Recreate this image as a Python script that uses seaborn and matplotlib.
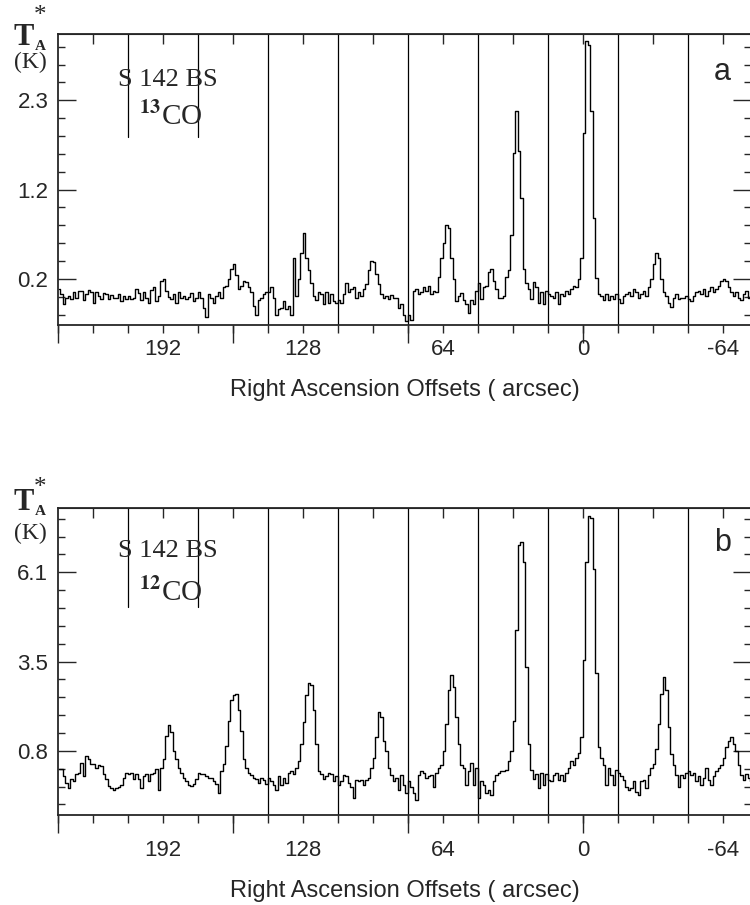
import numpy as np
import pandas as pd
import seaborn as sns
import matplotlib.pyplot as plt
from matplotlib.ticker import FixedLocator

# RA offsets of the ten concatenated spectra (arcsec)
offsets = [224, 192, 160, 128, 96, 64, 32, 0, -32, -64]

# 13CO spectra, T_A* (K), 28 channels per position
co13 = [
    [0.08, 0.02, -0.10, -0.02, 0.00, -0.04, 0.05, -0.02, 0.06, 0.06, -0.05, 0.02, 0.07, 0.04,
     -0.08, 0.04, 0.00, -0.04, 0.03, 0.02, -0.04, 0.01, -0.02, -0.03, 0.02, -0.06, 0.00, -0.04],
    [0.00, -0.04, -0.02, 0.08, 0.03, -0.05, 0.05, -0.02, -0.08, 0.07, 0.10, -0.06, 0.00, 0.18,
     0.20, 0.06, -0.01, -0.04, 0.02, -0.08, 0.04, -0.02, 0.00, -0.04, -0.01, 0.03, -0.06, -0.02],
    [0.04, -0.02, -0.14, -0.25, 0.02, -0.02, -0.09, 0.00, 0.04, -0.02, 0.10, 0.12, 0.20, 0.31,
     0.37, 0.24, 0.08, 0.12, 0.18, 0.16, 0.10, 0.04, -0.12, -0.22, -0.05, -0.02, 0.02, 0.04],
    [0.04, 0.10, -0.02, -0.22, -0.16, -0.14, -0.06, -0.16, -0.12, -0.22, 0.45, 0.00, 0.20, 0.50,
     0.74, 0.45, 0.30, 0.15, 0.00, -0.05, 0.05, 0.02, -0.10, 0.05, -0.08, 0.02, -0.06, -0.08],
    [-0.05, -0.08, 0.02, 0.15, 0.05, 0.08, 0.10, -0.02, 0.04, 0.00, 0.08, 0.14, 0.30, 0.41,
     0.40, 0.26, 0.14, 0.02, -0.02, 0.00, -0.04, 0.01, -0.03, -0.02, -0.14, -0.10, -0.22, -0.30],
    [-0.22, -0.28, 0.06, 0.08, 0.02, 0.04, 0.10, 0.06, 0.12, 0.02, 0.06, 0.04, 0.22, 0.45,
     0.62, 0.83, 0.80, 0.45, 0.20, -0.06, 0.00, 0.03, -0.05, -0.10, -0.20, -0.05, -0.10, 0.06],
    [0.15, -0.04, 0.10, 0.12, 0.28, 0.32, 0.18, 0.08, -0.02, -0.02, 0.00, 0.22, 0.30, 0.72,
     1.68, 2.18, 1.70, 1.15, 0.32, 0.15, 0.08, -0.04, 0.16, 0.10, -0.08, 0.04, -0.10, 0.06],
    [0.02, 0.00, -0.02, 0.04, -0.10, 0.02, 0.00, 0.06, 0.02, 0.08, 0.12, 0.10, 0.20, 0.45,
     1.91, 3.00, 2.95, 2.18, 0.92, 0.21, 0.02, 0.00, -0.05, 0.02, -0.05, 0.00, -0.04, 0.02],
    [-0.04, -0.08, 0.00, 0.02, 0.04, 0.00, 0.08, 0.04, -0.02, 0.02, 0.06, 0.00, 0.10, 0.20,
     0.38, 0.50, 0.45, 0.20, 0.05, 0.00, -0.08, -0.13, -0.02, 0.02, -0.04, -0.02, -0.03, 0.00],
    [-0.04, -0.06, 0.00, 0.04, 0.06, 0.02, 0.08, 0.00, 0.06, 0.10, 0.04, 0.08, 0.12, 0.18,
     0.20, 0.18, 0.10, 0.04, 0.00, 0.05, -0.02, -0.05, 0.02, 0.06, -0.02, 0.00, 0.02, 0.00],
]

# 12CO spectra, T_A* (K)
co12 = [
    [0.25, 0.25, 0.05, -0.15, -0.30, -0.05, -0.10, 0.10, 0.15, 0.45, 0.05, 0.65, 0.55, 0.40,
     0.42, 0.30, 0.38, 0.35, 0.10, -0.05, -0.25, -0.30, -0.35, -0.30, -0.28, -0.20, 0.00, 0.15],
    [0.10, 0.15, -0.05, 0.12, -0.05, -0.30, 0.05, 0.12, -0.10, 0.10, 0.15, 0.25, -0.35, 0.30,
     0.55, 1.25, 1.57, 1.35, 0.80, 0.55, 0.30, 0.15, 0.00, -0.10, -0.20, -0.25, -0.18, -0.05],
    [0.15, 0.10, 0.12, 0.05, 0.00, -0.02, -0.10, -0.18, -0.45, 0.20, 0.40, 0.95, 1.70, 2.30,
     2.45, 2.48, 2.00, 1.40, 0.55, 0.30, 0.15, 0.08, 0.00, -0.05, -0.15, 0.00, -0.08, -0.18],
    [0.00, -0.10, -0.20, -0.35, 0.05, -0.20, 0.00, -0.15, 0.15, 0.20, 0.10, 0.30, 0.50, 1.00,
     1.65, 2.45, 2.80, 2.75, 2.00, 1.00, 0.20, 0.10, -0.05, 0.05, 0.15, 0.10, -0.10, 0.05],
    [-0.21, -0.11, 0.09, 0.04, -0.16, -0.26, -0.61, -0.06, -0.11, -0.06, -0.21, -0.06, -0.01, 0.29,
     0.60, 1.20, 1.96, 1.80, 1.10, 0.80, 0.29, 0.09, -0.11, -0.01, -0.36, 0.09, -0.21, -0.46],
    [-0.11, -0.26, -0.46, -0.66, 0.09, 0.19, 0.14, -0.01, 0.04, 0.09, -0.26, 0.14, 0.29, 0.39,
     0.80, 1.60, 2.60, 3.06, 2.70, 1.80, 1.00, 0.39, 0.29, -0.21, 0.19, 0.44, -0.21, 0.29],
    [-0.61, -0.11, -0.21, -0.46, -0.36, -0.51, -0.11, 0.09, 0.14, 0.19, 0.19, 0.24, 0.49, 0.80,
     1.70, 4.40, 6.90, 7.00, 6.40, 3.30, 1.00, 0.23, -0.05, 0.10, -0.30, 0.15, -0.20, 0.10],
    [-0.06, -0.11, 0.09, 0.14, -0.06, 0.09, -0.11, 0.14, 0.29, 0.49, 0.39, 0.59, 0.74, 1.20,
     3.50, 6.40, 7.77, 7.70, 6.20, 3.10, 0.90, 0.59, 0.39, -0.21, 0.29, 0.09, -0.21, 0.24],
    [0.14, 0.04, -0.06, -0.26, -0.36, -0.31, -0.11, -0.41, -0.51, -0.11, -0.06, -0.31, 0.09, 0.30,
     0.40, 0.85, 1.60, 2.50, 3.00, 2.60, 1.50, 0.70, 0.39, 0.09, -0.26, 0.09, -0.01, 0.14],
    [0.19, 0.09, 0.14, -0.11, 0.04, -0.21, -0.01, 0.29, -0.06, -0.21, 0.04, 0.19, 0.29, 0.39,
     0.60, 0.90, 1.10, 1.22, 1.00, 0.80, 0.39, 0.09, -0.06, 0.10, 0.00, -0.10, 0.05, 0.00],
]

xlabels = [192, 128, 64, 0, -64]
a_ticks = [0.2, 1.25, 2.3]
a_ticklabels = ["0.2", "1.2", "2.3"]
b_ticks = [0.8, 3.45, 6.1]
b_ticklabels = ["0.8", "3.5", "6.1"]

sns.set_style("ticks")
plt.rcParams['font.family'] = ['Liberation Sans', 'DejaVu Sans']
plt.rcParams['mathtext.fontset'] = 'stix'
serif = ['Liberation Serif', 'DejaVu Serif']


def to_frame(segs):
    rows = []
    for off, vals in zip(offsets, segs):
        n = len(vals)
        for i, v in enumerate(vals):
            rows.append((off + 16 - (i + 0.5) * 32 / n, v))
    return pd.DataFrame(rows, columns=["offset", "T"])


def panel(ax, segs, ylim, ticks, ticklabels, step, div_start, xpad):
    df = to_frame(segs)
    sns.lineplot(data=df, x="offset", y="T", ax=ax, drawstyle="steps-mid",
                 color="black", lw=1.0, estimator=None, sort=False)
    ax.set_xlim(240, -76.8)
    ax.set_ylim(*ylim)

    bounds = [o - 16 for o in offsets[:-1]]
    for k, b in enumerate(bounds):
        ax.axvline(b, ymin=div_start if k < 2 else 0, ymax=1, color="black", lw=0.9)

    ax.set_xticks(xlabels)
    ax.set_xticklabels([str(v) for v in xlabels], fontsize=16)
    ax.xaxis.set_minor_locator(FixedLocator(np.arange(240, -81, -16)))
    ax.tick_params(axis="x", which="both", direction="out", length=6, width=1,
                   top=False, pad=xpad)

    longx = ax.secondary_xaxis("bottom")
    longx.set_xticks([240, 160, 80, 0])
    longx.tick_params(length=13, width=1, labelbottom=False)
    longx.spines["bottom"].set_visible(False)

    topx = ax.secondary_xaxis("top")
    topx.set_xticks(offsets)
    topx.tick_params(direction="in", length=7, width=1, labeltop=False)

    ax.set_yticks(ticks)
    ax.set_yticklabels(ticklabels, fontsize=16)
    minor = ticks[0] + step * np.arange(-3, 14)
    ax.yaxis.set_minor_locator(FixedLocator(minor))
    ax.tick_params(axis="y", which="major", direction="in", length=13, width=1,
                   left=True, right=True, pad=7)
    ax.tick_params(axis="y", which="minor", direction="in", length=5, width=1,
                   left=True, right=True)

    for s in ax.spines.values():
        s.set_linewidth(1.3)
    ax.set_xlabel("Right Ascension Offsets ( arcsec)", fontsize=17, labelpad=14)
    ax.set_ylabel("")


def labels(tb, sty, kc, sy, coy, iso):
    # pixel rows from the top of the 905 px figure
    fy = lambda y: 1 - y / 905
    fig.text(13 / 750, fy(tb), "T", fontsize=22, weight="bold", family=serif,
             ha="left", va="baseline")
    fig.text(35 / 750, fy(tb + 5), "A", fontsize=11, weight="bold", family=serif,
             ha="left", va="baseline")
    fig.text(40 / 750, fy(sty), "*", fontsize=18, family=serif,
             ha="center", va="center")
    fig.text(30 / 750, fy(kc), "(K)", fontsize=17, family=serif, ha="center", va="center")
    fig.text(168 / 750, fy(sy), "S 142 BS", fontsize=19, family=serif,
             ha="center", va="center")
    fig.text(171 / 750, fy(coy), r"$^{\mathbf{" + iso + r"}}$CO", fontsize=21,
             family=serif, ha="center", va="center")


fig = plt.figure(figsize=(7.5, 9.05), dpi=100)
ax_a = fig.add_axes([0.0773, 0.6409, 0.924, 0.3215])
ax_b = fig.add_axes([0.0773, 0.0994, 0.924, 0.3392])

panel(ax_a, co13, (-0.343, 3.08), a_ticks, a_ticklabels, 0.21, 0.645, 4)
panel(ax_b, co12, (-1.106, 8.006), b_ticks, b_ticklabels, 0.53, 0.678, 12)

labels(45, 16, 62, 80, 117, "13")
labels(510, 488, 533, 551, 593, "12")

fig.text(0.9627, 0.9204, "a", fontsize=22, ha="center", va="center")
fig.text(0.964, 0.400, "b", fontsize=22, ha="center", va="center")

fig.savefig("out.png", dpi=100)
